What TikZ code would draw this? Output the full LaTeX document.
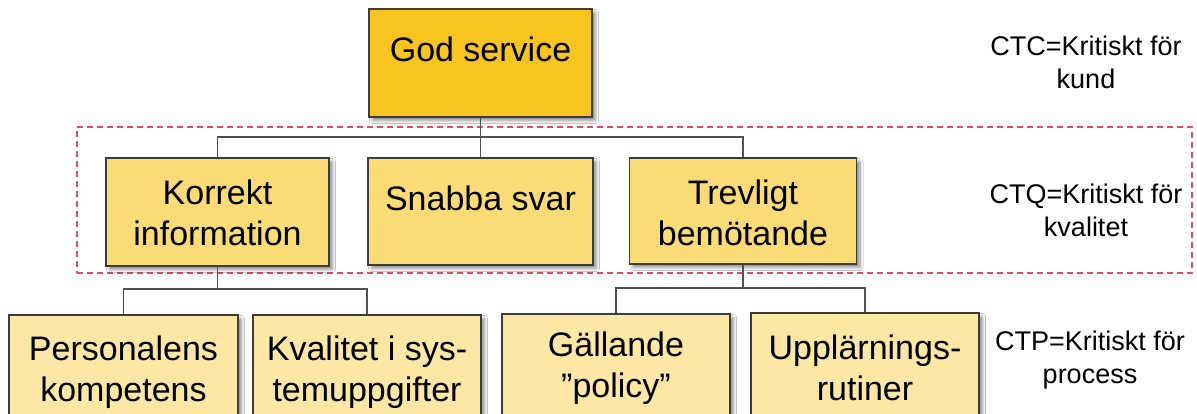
\documentclass[tikz,border=0pt]{standalone}
\usepackage{fontspec}
\setmainfont{Liberation Sans}
\usetikzlibrary{shadows.blur}
\definecolor{topfill}{HTML}{F8C520}
\definecolor{midfill}{HTML}{FADC76}
\definecolor{lowfill}{HTML}{FDE7A4}
\definecolor{boxline}{HTML}{3C3C3C}
\definecolor{conn}{HTML}{505050}
\definecolor{dashcol}{HTML}{E54A64}
\tikzset{
  box/.style={draw=boxline, line width=1.3pt, rectangle, inner sep=0pt,
    blur shadow={shadow xshift=3.5pt, shadow yshift=-3.5pt, shadow blur steps=6, shadow opacity=45, shadow blur radius=3pt}},
  boxtext/.style={align=center, inner sep=0pt, font=\fontsize{34}{41}\selectfont},
  sidetext/.style={align=center, inner sep=0pt, font=\fontsize{27}{33}\selectfont},
  link/.style={draw=conn, line width=1.2pt},
  zone/.style={draw=dashcol, line width=1.1pt, dash pattern=on 6pt off 4pt}
}
\begin{document}
\begin{tikzpicture}[x=1pt,y=-1pt]
\useasboundingbox (0,0) rectangle (1197,414);
\clip (0,0) rectangle (1197,414);
\fill[white] (0,0) rectangle (1197,414);
% dashed CTQ zone
\node[zone, rectangle, inner sep=0pt, minimum width=1115pt, minimum height=146pt] (ctqzone) at (634.5,200) {};
% boxes
\node[box, fill=topfill, minimum width=223pt, minimum height=108pt] (god) at (480.5,63) {};
\node[box, fill=midfill, minimum width=223pt, minimum height=108pt] (korrekt) at (217.5,212) {};
\node[box, fill=midfill, minimum width=225pt, minimum height=107pt] (snabba) at (480.5,211.5) {};
\node[box, fill=midfill, minimum width=227pt, minimum height=106pt] (trev) at (743,211) {};
\node[box, fill=lowfill, minimum width=229pt, minimum height=112pt] (pers) at (123.5,371) {};
\node[box, fill=lowfill, minimum width=228pt, minimum height=112pt] (kval) at (367,371) {};
\node[box, fill=lowfill, minimum width=228pt, minimum height=112pt] (gall) at (616,370) {};
\node[box, fill=lowfill, minimum width=228pt, minimum height=114pt] (uppl) at (865,370) {};
% box texts
\node[boxtext] (tgod) at (480.5,49) {God service};
\node[boxtext] (tkorrekt) at (217.5,212.5) {Korrekt\\information};
\node[boxtext] (tsnabba) at (480.5,198) {Snabba svar};
\node[boxtext] (ttrev) at (743,212.5) {Trevligt\\bemötande};
\node[boxtext] (tpers) at (123.5,372) {Personalens\\kompetens};
\node[boxtext] (tkval) at (367,372) {Kvalitet i sys-\\temuppgifter};
\node[boxtext] (tgall) at (616,368) {Gällande\\”policy”};
\node[boxtext] (tuppl) at (865,367.5) {Upplärnings-\\rutiner};
% side texts
\node[sidetext] (ctc) at (1086,62) {CTC=Kritiskt för\\kund};
\node[sidetext] (ctq) at (1086,210) {CTQ=Kritiskt för\\kvalitet};
\node[sidetext] (ctp) at (1090,360) {CTP=Kritiskt för\\process};
% connectors
\coordinate (j1) at (480.5,137);
\coordinate (j2) at (217.5,289);
\coordinate (j3) at (743,288);
\draw[link] (god.south) -- (snabba.north);
\draw[link] (korrekt.north) |- (j1) -| (trev.north);
\draw[link] (korrekt.south) -- (j2);
\draw[link] (pers.north) |- (j2) -| (kval.north);
\draw[link] (trev.south) -- (j3);
\draw[link] (gall.north) |- (j3) -| (uppl.north);
\end{tikzpicture}
\end{document}
